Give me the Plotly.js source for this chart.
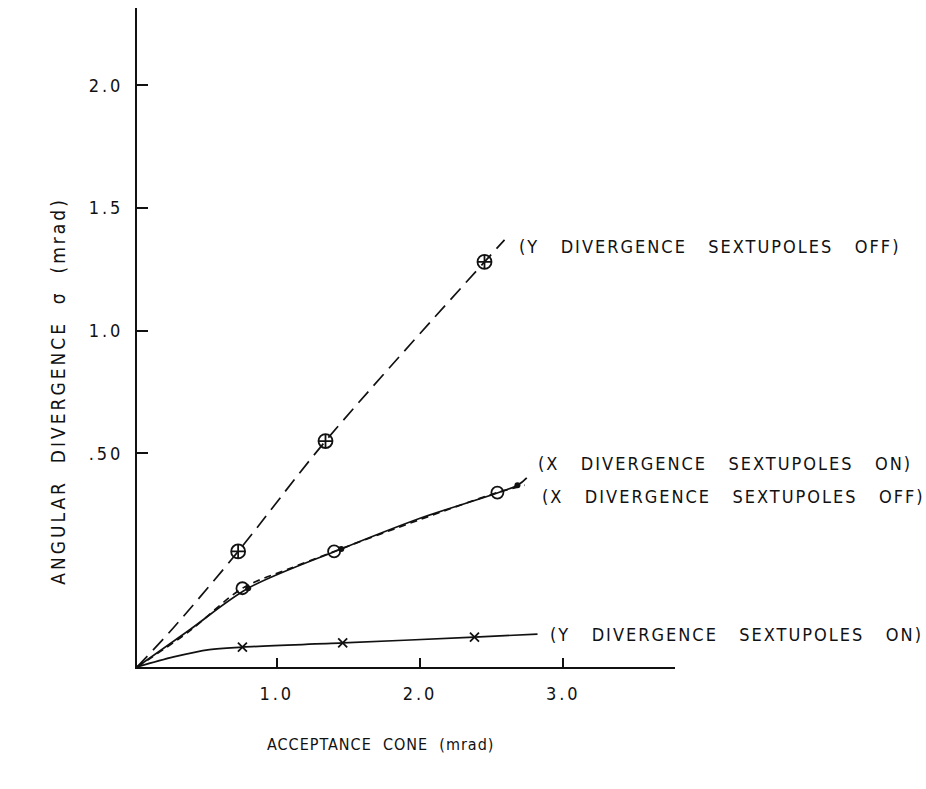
<!DOCTYPE html>
<html>
<head>
<meta charset="utf-8">
<script src="https://cdn.plot.ly/plotly-3.0.1.min.js"></script>
<style>
  html, body { margin: 0; padding: 0; background: #fff; }
  #chart { width: 926px; height: 789px; }
  .annotation-text { letter-spacing: 2px; }
  g.annotation[data-index="4"] .annotation-text { letter-spacing: 1px; }
  g.annotation[data-index="5"] .annotation-text { letter-spacing: 3px; }
  .xtick text, .ytick text { letter-spacing: 3px; }
</style>
</head>
<body>
<div id="chart"></div>
<script>
// Axis ticks
const xTickVals = [1, 2, 3];
const xTickText = ['1.0', '2.0', '3.0'];
const yTickVals = [0.5, 1.0, 1.5, 2.0];
const yTickText = ['.50', '1.0', '1.5', '2.0'];

// Y divergence, sextupoles off (dashed curve + measured points)
const yOffCurveX = [0.024, 0.28, 0.73, 1.34, 2.45, 2.59];
const yOffCurveY = [-0.371, -0.21, 0.10, 0.55, 1.28, 1.37];
const yOffPtsX = [0.73, 1.34, 2.45];
const yOffPtsY = [0.10, 0.55, 1.28];

// X divergence, sextupoles on (solid curve + measured points)
const xOnCurveX = [0.024, 0.39, 0.80, 1.45, 2.00, 2.68, 2.745];
const xOnCurveY = [-0.371, -0.22, -0.05, 0.11, 0.235, 0.37, 0.40];
const xOnPtsX = [0.80, 1.45, 2.68];
const xOnPtsY = [-0.05, 0.11, 0.37];

// X divergence, sextupoles off (short-dash curve + measured points)
const xOffCurveX = [0.024, 0.39, 0.76, 1.09, 1.40, 2.00, 2.54, 2.73];
const xOffCurveY = [-0.371, -0.225, -0.05, 0.03, 0.10, 0.23, 0.34, 0.37];
const xOffPtsX = [0.76, 1.40, 2.54];
const xOffPtsY = [-0.05, 0.10, 0.34];

// Y divergence, sextupoles on (solid curve + measured points)
const yOnCurveX = [0.024, 0.28, 0.53, 0.76, 1.46, 2.38, 2.82];
const yOnCurveY = [-0.371, -0.33, -0.30, -0.29, -0.273, -0.249, -0.237];
const yOnPtsX = [0.76, 1.46, 2.38];
const yOnPtsY = [-0.29, -0.273, -0.249];

// Curve labels
const GAP = '\u00a0\u00a0\u00a0';
const seriesLabels = [
  '(Y' + GAP + 'DIVERGENCE' + GAP + 'SEXTUPOLES' + GAP + 'OFF)',
  '(X' + GAP + 'DIVERGENCE' + GAP + 'SEXTUPOLES' + GAP + 'ON)',
  '(X' + GAP + 'DIVERGENCE' + GAP + 'SEXTUPOLES' + GAP + 'OFF)',
  '(Y' + GAP + 'DIVERGENCE' + GAP + 'SEXTUPOLES' + GAP + 'ON)'
];
const xTitle = 'ACCEPTANCE\u00a0\u00a0CONE\u00a0\u00a0(mrad)';
const yTitle = 'ANGULAR\u00a0\u00a0DIVERGENCE\u00a0\u00a0\u03c3\u00a0\u00a0(mrad)';

const INK = '#111';
const FONT = 'DejaVu Sans Condensed, DejaVu Sans, Liberation Sans, sans-serif';

function curve(x, y, dash) {
  return {
    x: x, y: y, type: 'scatter', mode: 'lines',
    line: { color: INK, width: 1.7, dash: dash, shape: 'spline', smoothing: 0.9 },
    hoverinfo: 'skip'
  };
}
function points(x, y, symbol, size, lineWidth) {
  return {
    x: x, y: y, type: 'scatter', mode: 'markers',
    marker: { symbol: symbol, size: size, color: INK, line: { color: INK, width: lineWidth } }
  };
}

const traces = [
  curve(yOffCurveX, yOffCurveY, '15px,8px'),
  points(yOffPtsX, yOffPtsY, 'circle-cross-open', 14, 1.8),
  curve(xOnCurveX, xOnCurveY, 'solid'),
  points(xOnPtsX, xOnPtsY, 'circle', 6, 0),
  curve(xOffCurveX, xOffCurveY, '7px,5px'),
  points(xOffPtsX, xOffPtsY, 'circle-open', 12, 1.8),
  curve(yOnCurveX, yOnCurveY, 'solid'),
  points(yOnPtsX, yOnPtsY, 'x-thin-open', 9, 1.8)
];

function label(text, x, y) {
  return {
    text: text, x: x, y: y, xref: 'x', yref: 'y',
    xanchor: 'left', yanchor: 'middle', showarrow: false,
    font: { family: FONT, size: 18, color: INK }
  };
}

const layout = {
  width: 926, height: 789,
  margin: { l: 137, r: 251, t: 8, b: 122 },
  paper_bgcolor: '#fff', plot_bgcolor: '#fff',
  showlegend: false,
  font: { family: FONT, color: INK },
  xaxis: {
    range: [0.024, 3.78],
    showgrid: false, zeroline: false,
    showline: true, linecolor: INK, linewidth: 2,
    ticks: 'inside', ticklen: 9, tickwidth: 2, tickcolor: INK,
    tickvals: xTickVals, ticktext: xTickText,
    tickfont: { family: FONT, size: 18, color: INK },
    ticklabelstandoff: 9
  },
  yaxis: {
    range: [-0.371, 2.315],
    showgrid: false, zeroline: false,
    showline: true, linecolor: INK, linewidth: 2,
    ticks: 'inside', ticklen: 11, tickwidth: 2, tickcolor: INK,
    tickvals: yTickVals, ticktext: yTickText,
    tickfont: { family: FONT, size: 18, color: INK },
    ticklabelstandoff: 8
  },
  annotations: [
    label(seriesLabels[0], 2.676, 1.341),
    label(seriesLabels[1], 2.808, 0.460),
    label(seriesLabels[2], 2.836, 0.322),
    label(seriesLabels[3], 2.89, -0.237),
    {
      text: xTitle, xref: 'paper', yref: 'paper', x: 0.4535, y: -0.118,
      xanchor: 'center', yanchor: 'middle', showarrow: false,
      font: { family: FONT, size: 16, color: INK }
    },
    {
      text: yTitle, xref: 'paper', yref: 'paper', x: -0.147, y: 0.419,
      xanchor: 'center', yanchor: 'middle', showarrow: false, textangle: -90,
      font: { family: FONT, size: 19, color: INK }
    }
  ]
};

Plotly.newPlot('chart', traces, layout, { staticPlot: true, displayModeBar: false });
</script>
</body>
</html>
